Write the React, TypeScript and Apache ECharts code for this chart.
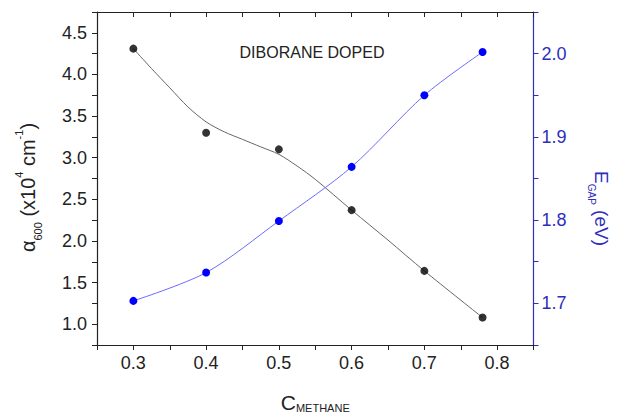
import React, { useEffect, useRef } from "react";
import * as echarts from "echarts";

const methane = [0.3, 0.4, 0.5, 0.6, 0.7, 0.78];
const alpha600 = [4.31, 3.3, 3.1, 2.37, 1.64, 1.08];
const eGap = [1.703, 1.737, 1.799, 1.864, 1.95, 2.002];
// smoothed fit curve through the alpha data
const fitX = [0.3, 0.325, 0.35, 0.375, 0.4, 0.425, 0.45, 0.475, 0.5, 0.525, 0.55, 0.6, 0.65, 0.7, 0.78];
const alphaFit = [4.31, 4.07, 3.84, 3.61, 3.43, 3.31, 3.22, 3.13, 3.04, 2.9, 2.74, 2.37, 2.01, 1.64, 1.08];
const annotation = "DIBORANE DOPED";

const FONT = "Liberation Sans, Arial, sans-serif";

const isMult = (v: number, step: number) =>
  Math.abs(v / step - Math.round(v / step)) < 1e-6;

export default function App() {
  const ref = useRef<HTMLDivElement>(null);
  useEffect(() => {
    if (!ref.current) return;
    const chart = echarts.init(ref.current, undefined, { renderer: "svg" });
    const blackData = methane.map((x, i) => [x, alpha600[i]]);
    const fitData = fitX.map((x, i) => [x, alphaFit[i]]);
    const blueData = methane.map((x, i) => [x, eGap[i]]);
    const blueAxis = "#2e2ebd";
    chart.setOption({
      animation: false,
      backgroundColor: "#ffffff",
      textStyle: { fontFamily: FONT },
      grid: { left: 97, right: 74, top: 12, bottom: 72, containLabel: false },
      xAxis: [
        {
          type: "value",
          position: "bottom",
          min: 0.25,
          max: 0.85,
          interval: 0.05,
          splitLine: { show: false },
          axisLine: { lineStyle: { color: "#222", width: 1.2 } },
          axisTick: { inside: false, length: 5, lineStyle: { color: "#222" } },
          axisLabel: {
            color: "#222",
            fontSize: 18,
            fontFamily: FONT,
            margin: 9,
            showMinLabel: true,
            showMaxLabel: true,
            formatter: (v: number) => (isMult(v, 0.1) ? v.toFixed(1) : ""),
          },
          name: "{a|C}{s|METHANE}",
          nameLocation: "middle",
          nameGap: 44,
          nameTextStyle: {
            rich: {
              a: { fontSize: 21, color: "#222", fontFamily: FONT, verticalAlign: "bottom", lineHeight: 24 },
              s: { fontSize: 11, color: "#222", fontFamily: FONT, verticalAlign: "bottom", lineHeight: 20 },
            },
          },
        },
        {
          type: "value",
          position: "top",
          min: 0.25,
          max: 0.85,
          interval: 0.05,
          splitLine: { show: false },
          axisLine: { lineStyle: { color: "#222", width: 1.2 } },
          axisTick: { inside: true, length: 5, lineStyle: { color: "#222" } },
          axisLabel: { show: false },
        },
      ],
      yAxis: [
        {
          type: "value",
          position: "left",
          min: 0.75,
          max: 4.75,
          interval: 0.25,
          splitLine: { show: false },
          axisLine: { show: true, lineStyle: { color: "#222", width: 1.2 } },
          axisTick: { show: true, inside: false, length: 5, lineStyle: { color: "#222" } },
          axisLabel: {
            color: "#222",
            fontSize: 18,
            fontFamily: FONT,
            margin: 10,
            formatter: (v: number) => (isMult(v, 0.5) ? v.toFixed(1) : ""),
          },
          name: "{a|α}{s|600}{a| (x10}{p|4}{a| cm}{p|-1}{a|)}",
          nameLocation: "middle",
          nameRotate: 90,
          nameGap: 54,
          nameTextStyle: {
            padding: [0, 18, 0, 0],
            rich: {
              a: { fontSize: 20, color: "#222", fontFamily: FONT, verticalAlign: "middle", lineHeight: 22 },
              s: { fontSize: 11, color: "#222", fontFamily: FONT, verticalAlign: "bottom", lineHeight: 30 },
              p: { fontSize: 11, color: "#222", fontFamily: FONT, verticalAlign: "top", lineHeight: 26 },
            },
          },
        },
        {
          type: "value",
          position: "right",
          min: 1.65,
          max: 2.05,
          interval: 0.05,
          splitLine: { show: false },
          axisLine: { show: true, lineStyle: { color: blueAxis, width: 1.2 } },
          axisTick: { show: true, inside: false, length: 5, lineStyle: { color: blueAxis } },
          axisLabel: {
            color: blueAxis,
            fontSize: 18,
            fontFamily: FONT,
            margin: 8,
            formatter: (v: number) => (isMult(v, 0.1) ? v.toFixed(1) : ""),
          },
          name: "{a|E}{s|GAP}{a| (eV)}",
          nameLocation: "middle",
          nameRotate: -90,
          nameGap: 53,
          nameTextStyle: {
            padding: [0, 0, 0, 60],
            rich: {
              a: { fontSize: 19, color: blueAxis, fontFamily: FONT, verticalAlign: "middle", lineHeight: 22 },
              s: { fontSize: 10, color: blueAxis, fontFamily: FONT, verticalAlign: "bottom", lineHeight: 30 },
            },
          },
        },
      ],
      graphic: [
        {
          type: "text",
          x: 312,
          y: 52,
          style: {
            text: annotation,
            fontSize: 16,
            fontFamily: FONT,
            fill: "#222",
            textAlign: "center",
            textVerticalAlign: "middle",
          },
        },
      ],
      series: [
        {
          type: "line",
          xAxisIndex: 0,
          yAxisIndex: 0,
          data: fitData,
          smooth: 0.3,
          symbol: "none",
          lineStyle: { color: "#666", width: 1 },
          z: 2,
        },
        {
          type: "scatter",
          xAxisIndex: 0,
          yAxisIndex: 0,
          data: blackData,
          symbol: "circle",
          symbolSize: 8,
          itemStyle: { color: "#000" },
          z: 3,
        },
        {
          type: "line",
          xAxisIndex: 0,
          yAxisIndex: 1,
          data: blueData,
          smooth: 0.3,
          symbol: "circle",
          symbolSize: 8,
          lineStyle: { color: "#6b6bff", width: 1 },
          itemStyle: { color: "#0000ff" },
          z: 3,
        },
      ],
    });
    return () => chart.dispose();
  }, []);
  return (
    <div
      ref={ref}
      style={{ position: "fixed", left: 0, top: 0, width: 619, height: 418 }}
    />
  );
}
